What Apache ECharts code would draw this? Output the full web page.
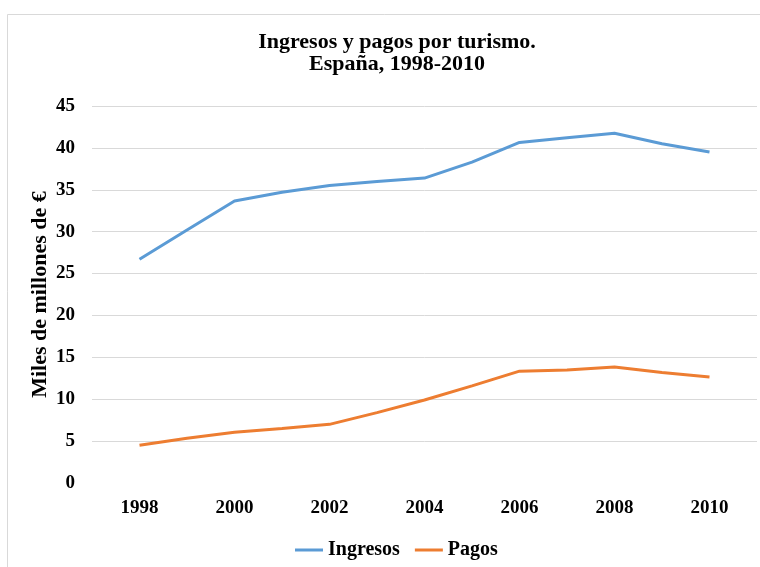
<!DOCTYPE html>
<html>
<head>
<meta charset="utf-8">
<script src="https://cdn.jsdelivr.net/npm/echarts@6/dist/echarts.min.js"></script>
<style>html,body{margin:0;padding:0;background:#fff}#c{width:760px;height:567px}</style>
</head>
<body>
<div id="c"></div>
<script>
var years = [1998,1999,2000,2001,2002,2003,2004,2005,2006,2007,2008,2009,2010];
var ingresos = [26.7,30.2,33.65,34.7,35.5,36.0,36.4,38.3,40.65,41.2,41.75,40.5,39.5];
var pagos = [4.5,5.35,6.05,6.5,7.0,8.4,9.9,11.6,13.35,13.5,13.85,13.2,12.65];
var yTicks = [0,5,10,15,20,25,30,35,40,45];
var titleText = 'Ingresos y pagos por turismo.\nEspaña, 1998-2010';
var yName = 'Miles de millones de €';

var font = 'Liberation Serif';
var chart = echarts.init(document.getElementById('c'));
function pairs(v){ return years.map(function(y,i){ return [y, v[i]]; }); }
chart.setOption({
  animation: false,
  backgroundColor: '#fff',
  graphic: [{
    type: 'rect', z: -1,
    shape: { x: 7.5, y: 14.5, width: 800, height: 600 },
    style: { fill: 'none', stroke: '#d9d9d9', lineWidth: 1 }
  }],
  title: {
    text: titleText,
    left: 392, top: 26, textAlign: 'center',
    textStyle: { fontFamily: font, fontWeight: 'bold', fontSize: 22, lineHeight: 22, color: '#000' }
  },
  legend: {
    left: 290, top: 535,
    icon: 'rect', itemWidth: 28, itemHeight: 3, itemGap: 15,
    textStyle: { fontFamily: font, fontWeight: 'bold', fontSize: 20, color: '#000' },
    data: ['Ingresos', 'Pagos']
  },
  grid: { left: 92, right: 0, top: 106, bottom: 84, containLabel: false },
  xAxis: {
    type: 'value', min: 1997, max: 2011, interval: 1,
    axisLine: { show: false }, axisTick: { show: false }, splitLine: { show: false },
    axisLabel: {
      margin: 16, fontFamily: font, fontWeight: 'bold', fontSize: 19, color: '#000',
      formatter: function(v){ return (v >= 1998 && v <= 2010 && v % 2 === 0) ? String(v) : ''; }
    }
  },
  yAxis: {
    type: 'value', min: yTicks[0], max: yTicks[yTicks.length-1], interval: 5,
    name: yName, nameLocation: 'middle', nameGap: 41, nameRotate: 90, nameMoveOverlap: false,
    nameTextStyle: { fontFamily: font, fontWeight: 'bold', fontSize: 22, color: '#000' },
    axisLine: { show: false }, axisTick: { show: false },
    splitLine: { show: true, showMinLine: false, lineStyle: { color: '#d9d9d9', width: 1 } },
    axisLabel: { margin: 17, fontFamily: font, fontWeight: 'bold', fontSize: 19, color: '#000' }
  },
  series: [
    { name: 'Ingresos', type: 'line', data: pairs(ingresos), symbol: 'none',
      lineStyle: { color: '#5b9bd5', width: 3 }, itemStyle: { color: '#5b9bd5' } },
    { name: 'Pagos', type: 'line', data: pairs(pagos), symbol: 'none',
      lineStyle: { color: '#ed7d31', width: 3 }, itemStyle: { color: '#ed7d31' } }
  ]
});
</script>
</body>
</html>
